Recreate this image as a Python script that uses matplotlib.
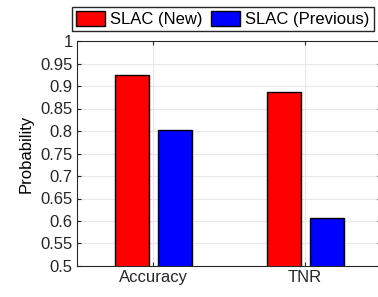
import matplotlib
matplotlib.use("Agg")
import matplotlib.pyplot as plt
import numpy as np

categories = ["Accuracy", "TNR"]
series_names = ["SLAC (New)", "SLAC (Previous)"]
slac_new = [0.925, 0.887]
slac_prev = [0.802, 0.607]
yticks = [0.5, 0.55, 0.6, 0.65, 0.7, 0.75, 0.8, 0.85, 0.9, 0.95, 1.0]
ytick_labels = ["0.5", "0.55", "0.6", "0.65", "0.7", "0.75", "0.8", "0.85", "0.9", "0.95", "1"]

plt.rcParams['font.family'] = ['Liberation Sans', 'DejaVu Sans']
plt.rcParams['font.size'] = 12

fig = plt.figure(figsize=(3.78, 2.97), dpi=100)
ax = fig.add_axes([77/378, 1-266/297, 304/378, 225/297])

x = np.arange(1, len(categories) + 1)
w = 0.224
b1 = ax.bar(x - 0.14, slac_new, w, color=(1, 0, 0), edgecolor='black', linewidth=1, label=series_names[0], zorder=3)
b2 = ax.bar(x + 0.145, slac_prev, w, color=(0, 0, 1), edgecolor='black', linewidth=1, label=series_names[1], zorder=3)

ax.set_xlim(0.5, 2.5)
ax.set_ylim(0.5, 1.0)
ax.set_xticks(x)
ax.set_xticklabels(categories)
ax.set_yticks(yticks)
ax.set_yticklabels(ytick_labels)
ax.set_ylabel("Probability", labelpad=5)
ax.grid(True, color=(0.91, 0.91, 0.91), linewidth=0.8, zorder=0)
ax.set_axisbelow(True)
ax.tick_params(direction='in', top=True, right=True, length=3, color=(0.15, 0.15, 0.15), labelcolor=(0.15, 0.15, 0.15), pad=3)
for s in ax.spines.values():
    s.set_color((0.15, 0.15, 0.15))
    s.set_linewidth(0.8)

fig.legend(handles=[b1, b2], labels=series_names, loc='upper left',
           bbox_to_anchor=(72/378, 1-7/297), ncol=2, frameon=True,
           fancybox=False, edgecolor=(0.15, 0.15, 0.15), framealpha=1,
           handlelength=1.75, handleheight=0.95, handletextpad=0.3,
           columnspacing=0.5, borderpad=0.25, borderaxespad=0)

fig.savefig("out.png", dpi=100)
